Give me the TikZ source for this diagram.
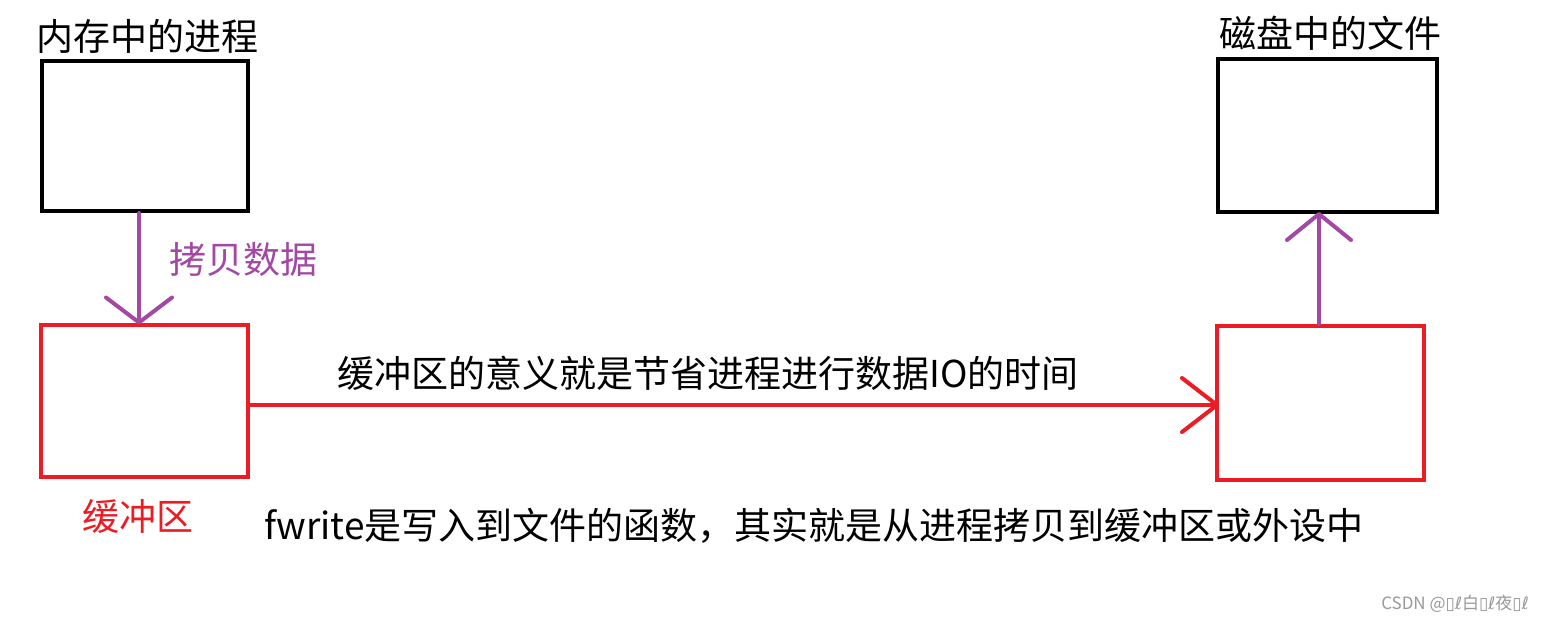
\documentclass[tikz,border=0pt]{standalone}
\usepackage{fontspec}
\setmainfont{Noto Sans CJK SC}
\newfontfamily\dvfont{DejaVu Sans}
\usetikzlibrary{arrows.meta}
\definecolor{pred}{RGB}{237,28,36}
\definecolor{ppurple}{RGB}{163,73,164}
\begin{document}
\begin{tikzpicture}[x=1pt,y=-1pt,
  boxk/.style={draw=black,line width=4pt,minimum width=206pt,minimum height=150pt,inner sep=0pt},
  boxr/.style={draw=pred,line width=4pt,minimum width=207pt,minimum height=152pt,inner sep=0pt},
  lbl/.style={inner sep=0pt,font=\fontsize{37}{40}\selectfont},
  conn/.style={line width=4pt,line cap=round}
]
\fill[white] (0,0) rectangle (1544,622);
\useasboundingbox (0,0) rectangle (1544,622);
% boxes
\node[boxk] (proc) at (145,136) {};
\node[boxk,minimum width=219pt,minimum height=153pt] (file) at (1327.5,135.5) {};
\node[boxr] (bufl) at (144.5,400.5) {};
\node[boxr,minimum height=154pt] (bufr) at (1320.5,403) {};
% labels
\node[lbl] (tproc) at (147,36) {内存中的进程};
\node[lbl] (tfile) at (1330,33) {磁盘中的文件};
\node[lbl,text=ppurple] (tcopy) at (243,259) {拷贝数据};
\node[lbl,text=pred] (tbuf) at (138,517) {缓冲区};
\node[lbl] (tmean) at (708,373) {缓冲区的意义就是节省进程进行数据IO的时间};
\node[lbl] (tfw) at (814,526) {fwrite是写入到文件的函数，其实就是从进程拷贝到缓冲区或外设中};
\node[inner sep=0pt,text=black!40,font=\fontsize{17}{19}\selectfont] (wm) at (1455,604) {CSDN @{\dvfont ▯ℓ}白{\dvfont ▯ℓ}夜{\dvfont ▯ℓ}};
% connectors
\draw[conn,ppurple,-{Straight Barb[length=25pt,width=66pt,line cap=round,round]}] (proc.south -| 139,0) -- ([yshift=-2pt]bufl.north -| 139,0);
\draw[conn,pred,-{Straight Barb[length=35pt,width=54pt,line cap=round,round]}] (bufl.east |- 0,405) -- ([xshift=4pt]bufr.west |- 0,405);
\draw[conn,ppurple,-{Straight Barb[length=26pt,width=64pt,line cap=round,round]}] (bufr.north -| 1319,0) -- ([yshift=2pt]file.south -| 1319,0);
\end{tikzpicture}
\end{document}
